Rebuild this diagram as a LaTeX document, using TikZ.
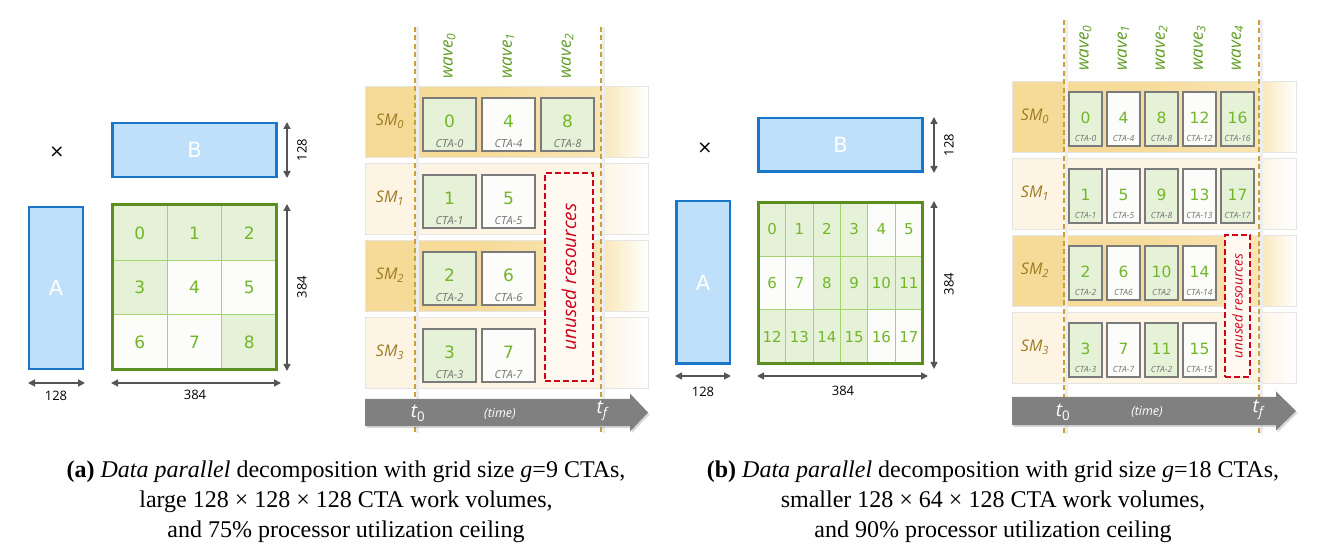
\documentclass[tikz,border=0pt]{standalone}
\usepackage{fontspec}
\setmainfont{Liberation Serif}
\newfontfamily\dfont{Open Sans}
\newfontfamily\nfont{DejaVu Sans}
\usetikzlibrary{arrows.meta,shadows}
\definecolor{bfill}{HTML}{BEE0FA}
\definecolor{bline}{HTML}{1A76C9}
\definecolor{gline}{HTML}{5C8E1F}
\definecolor{gcell}{HTML}{E6F2D8}
\definecolor{gthin}{HTML}{A5D46E}
\definecolor{gnum}{HTML}{72B62A}
\definecolor{wcell}{HTML}{FCFCFA}
\definecolor{boxline}{HTML}{7B7B7B}
\definecolor{smtext}{HTML}{9C7A22}
\definecolor{gold}{HTML}{F6DB98}
\definecolor{cream}{HTML}{FDF4E3}
\definecolor{dashc}{HTML}{C9A03A}
\definecolor{redd}{HTML}{D0021B}
\definecolor{arrowg}{HTML}{808080}
\definecolor{dimg}{HTML}{555555}
\definecolor{ctag}{HTML}{707070}
\definecolor{wavec}{HTML}{5E9C22}
% stepped horizontal gradient: #1 x0, #2 x1, #3 top, #4 colour, #5 start %, #6 end %
\newcommand\sgrad[6]{%
  \foreach \i in {0,...,29}{%
    \pgfmathsetmacro\pp{#5+(#6-#5)*(\i+0.5)/30}%
    \pgfmathsetmacro\xa{#1+(#2-#1)*\i/30}%
    \pgfmathsetmacro\xb{#1+(#2-#1)*(\i+1)/30+0.4}%
    \fill[#4!\pp!white] (\xa,#3) rectangle (\xb,#3+71);
  }}
% row backgrounds: #1 x0, #2 end of solid part, #3 t_f line, #4 x1, #5 top
\newcommand\sgoldbg[5]{%
  \fill[gold] (#1,#5) rectangle (#2+0.4,#5+71);
  \sgrad{#2}{#3}{#5}{gold}{100}{72}
  \sgrad{#3}{#4}{#5}{gold}{72}{0}}
\newcommand\screambg[5]{%
  \fill[cream] (#1,#5) rectangle (#3+0.4,#5+71);
  \sgrad{#3}{#4}{#5}{cream}{100}{0}}
\tikzset{
  matrect/.style={draw=bline, line width=2.5pt, fill=bfill, inner sep=0pt, text=white, font=\nfont\fontsize{21}{21}\selectfont},
  lcell/.style={draw=gthin, line width=0.9pt, inner sep=0pt, text=gnum},
  dimarrow/.style={draw=dimg, line width=1.4pt, {Triangle[width=7pt,length=7pt]}-{Triangle[width=7pt,length=7pt]}},
  dimlab/.style={font=\dfont\fontsize{13}{13}\selectfont, text=black, inner sep=0pt},
  smrow/.style={draw=black!10, line width=0.6pt, inner sep=0pt, anchor=north west},
  smlab/.style={font=\dfont\itshape\fontsize{16}{16}\selectfont, text=smtext, inner sep=0pt},
  wavelab/.style={text=wavec, rotate=90, inner sep=0pt},
  ctabox/.style={draw=boxline, line width=2.4pt, inner sep=0pt, drop shadow={opacity=0.18, shadow xshift=1pt, shadow yshift=-1.5pt}},
  ctanum/.style={text=gnum, inner sep=0pt},
  ctalab/.style={text=ctag, inner sep=0pt},
  tline/.style={draw=dashc, line width=1.6pt, dash pattern=on 5pt off 3.5pt},
  tshadow/.style={draw=black!7, line width=3pt},
  unusedbox/.style={draw=redd, line width=2pt, dash pattern=on 6pt off 3pt, fill=white!55!cream, inner sep=0pt},
  unlab/.style={text=redd, rotate=90, inner sep=0pt},
  tarrow/.style={fill=arrowg, drop shadow={opacity=0.3, shadow xshift=1.5pt, shadow yshift=-2pt}},
  tlab/.style={text=white, inner sep=0pt},
  captext/.style={align=center, font=\fontsize{24}{30}\selectfont, inner sep=0pt}
}
\begin{document}
\begin{tikzpicture}[x=1pt,y=-1pt]
\useasboundingbox[fill=white] (0,0) rectangle (1318,553);

%% ================= LEFT PANEL (a) =================
\node[font=\nfont\fontsize{18}{18}\selectfont] (ltimes) at (57,152) {×};
\node[matrect, minimum width=164, minimum height=54] (lB) at (194.5,150) {B};
\node[matrect, minimum width=54, minimum height=162] (lA) at (56,288) {A};
\foreach \k/\f in {0/gcell,1/gcell,2/gcell,3/gcell,4/wcell,5/wcell,6/wcell,7/wcell,8/gcell}{
  \pgfmathtruncatemacro\cc{mod(\k,3)}
  \pgfmathtruncatemacro\rr{div(\k,3)}
  \node[lcell, fill=\f, minimum width=54.67, minimum height=54.67, font=\nfont\fontsize{17}{17}\selectfont] (lc\k) at ({112.5+54.67*(\cc+0.5)},{205.5+54.67*(\rr+0.5)}) {\k};
}
\draw[gline, line width=3pt] (112,205) rectangle (276.5,369.5);
% dimensions
\coordinate (ldb1) at (287,122); \coordinate (ldb2) at (287,178);
\coordinate (ldc1) at (287,204); \coordinate (ldc2) at (287,371);
\coordinate (lda1) at (28,383); \coordinate (lda2) at (85,383);
\coordinate (ldh1) at (111,383); \coordinate (ldh2) at (281,383);
\draw[dimarrow] (ldb1) -- (ldb2);
\draw[dimarrow] (ldc1) -- (ldc2);
\draw[dimarrow] (lda1) -- (lda2);
\draw[dimarrow] (ldh1) -- (ldh2);
\node[dimlab, rotate=90] (ldbl) at (302,150) {128};
\node[dimlab, rotate=90] (ldcl) at (302,287) {384};
\node[dimlab] (ldal) at (56,395.5) {128};
\node[dimlab] (ldhl) at (195,395) {384};

%% ---- left timeline
\sgoldbg{365}{478}{601}{648}{86}
\screambg{365}{478}{601}{648}{163}
\sgoldbg{365}{478}{601}{648}{240}
\screambg{365}{478}{601}{648}{317}
\node[smrow, minimum width=283, minimum height=71] (lr0) at (365,86) {};
\node[smrow, minimum width=283, minimum height=71] (lr1) at (365,163) {};
\node[smrow, minimum width=283, minimum height=71] (lr2) at (365,240) {};
\node[smrow, minimum width=283, minimum height=71] (lr3) at (365,317) {};
\foreach \r in {0,1,2,3}{
  \node[smlab] (lsm\r) at (390,{86+77*\r+35.5}) {SM\textsubscript{\r}};
}
% dashed time lines
\coordinate (lt0a) at (415,27); \coordinate (lt0b) at (415,433);
\coordinate (ltfa) at (601,27); \coordinate (ltfb) at (601,433);
\coordinate (lt0as) at (417.5,27); \coordinate (lt0bs) at (417.5,433);
\coordinate (ltfas) at (603.5,27); \coordinate (ltfbs) at (603.5,433);
\draw[tshadow] (lt0as) -- (lt0bs);
\draw[tshadow] (ltfas) -- (ltfbs);
\draw[tline] (lt0a) -- (lt0b);
\draw[tline] (ltfa) -- (ltfb);
% wave labels
\foreach \c in {0,1,2}{
  \node[wavelab, font=\dfont\itshape\fontsize{17}{17}\selectfont] (lw\c) at ({449.5+59*\c},56) {wave\textsubscript{\c}};
}
% CTA boxes
\foreach \r/\c/\f/\lab in {0/0/gcell/CTA-0,0/1/wcell/CTA-4,0/2/gcell/CTA-8,1/0/gcell/CTA-1,1/1/wcell/CTA-5,2/0/gcell/CTA-2,2/1/wcell/CTA-6,3/0/gcell/CTA-3,3/1/wcell/CTA-7}{
  \pgfmathtruncatemacro\num{\r+4*\c}
  \node[ctabox, fill=\f, minimum width=53, minimum height=53] (lb\r\c) at ({422+59*\c+27.5},{97+77*\r+27.5}) {};
  \node[ctanum, font=\nfont\fontsize{17}{17}\selectfont] (lbn\r\c) at ({422+59*\c+27.5},{97+77*\r+24.5}) {\num};
  \node[ctalab, font=\dfont\itshape\fontsize{11}{11}\selectfont] (lbl\r\c) at ({422+59*\c+27.5},{97+77*\r+46.5}) {\lab};
}
\node[unusedbox, minimum width=48, minimum height=208] (lun) at (569,277) {};
\node[unlab, font=\dfont\itshape\fontsize{19}{19}\selectfont] (lunl) at (569,277) {unused resources};
% time arrow
\fill[tarrow] (365,399) -- (630,399) -- (630,393.5) -- (648,412.5) -- (630,431.5) -- (630,426) -- (365,426) -- cycle;
\node[tlab, font=\dfont\itshape\fontsize{19}{19}\selectfont] (lt0) at (418,413) {t\textsubscript{\upshape 0}};
\node[tlab, font=\dfont\itshape\fontsize{12.5}{12.5}\selectfont] (ltime) at (500,414) {(time)};
\node[tlab, font=\dfont\itshape\fontsize{19}{19}\selectfont] (ltf) at (602,411) {t\textsubscript{f}};

%% ================= RIGHT PANEL (b) =================
\node[font=\nfont\fontsize{18}{18}\selectfont] (rtimes) at (705,148) {×};
\node[matrect, minimum width=164, minimum height=53.5] (rB) at (840.5,145) {B};
\node[matrect, minimum width=53.5, minimum height=162.5] (rA) at (703,282.5) {A};
\foreach \k/\f in {0/gcell,1/gcell,2/gcell,3/gcell,4/wcell,5/wcell,6/wcell,7/wcell,8/gcell,9/gcell,10/gcell,11/gcell,12/gcell,13/gcell,14/gcell,15/gcell,16/wcell,17/wcell}{
  \pgfmathtruncatemacro\cc{mod(\k,6)}
  \pgfmathtruncatemacro\rr{div(\k,6)}
  \node[lcell, fill=\f, minimum width=27.33, minimum height=53.67, font=\nfont\fontsize{15}{15}\selectfont] (rc\k) at ({758.5+27.33*(\cc+0.5)},{202.5+53.67*(\rr+0.5)}) {\k};
}
\draw[gline, line width=3pt] (758.5,202.5) rectangle (922.5,363.5);
\coordinate (rdb1) at (934,117); \coordinate (rdb2) at (934,173);
\coordinate (rdc1) at (934,201); \coordinate (rdc2) at (934,369);
\coordinate (rda1) at (675,376); \coordinate (rda2) at (731,376);
\coordinate (rdh1) at (757,376); \coordinate (rdh2) at (928,376);
\draw[dimarrow] (rdb1) -- (rdb2);
\draw[dimarrow] (rdc1) -- (rdc2);
\draw[dimarrow] (rda1) -- (rda2);
\draw[dimarrow] (rdh1) -- (rdh2);
\node[dimlab, rotate=90] (rdbl) at (949,145) {128};
\node[dimlab, rotate=90] (rdcl) at (949,284) {384};
\node[dimlab] (rdal) at (703,392) {128};
\node[dimlab] (rdhl) at (843,391) {384};

%% ---- right timeline
\sgoldbg{1012}{1140}{1259}{1296}{81}
\screambg{1012}{1140}{1259}{1296}{158}
\sgoldbg{1012}{1140}{1259}{1296}{235}
\screambg{1012}{1140}{1259}{1296}{312}
\node[smrow, minimum width=284, minimum height=71] (rr0) at (1012,81) {};
\node[smrow, minimum width=284, minimum height=71] (rr1) at (1012,158) {};
\node[smrow, minimum width=284, minimum height=71] (rr2) at (1012,235) {};
\node[smrow, minimum width=284, minimum height=71] (rr3) at (1012,312) {};
\foreach \r in {0,1,2,3}{
  \node[smlab] (rsm\r) at (1035,{81+77*\r+35.5}) {SM\textsubscript{\r}};
}
\coordinate (rt0a) at (1064,20); \coordinate (rt0b) at (1064,434);
\coordinate (rtfa) at (1259,20); \coordinate (rtfb) at (1259,434);
\coordinate (rt0as) at (1066.5,20); \coordinate (rt0bs) at (1066.5,434);
\coordinate (rtfas) at (1261.5,20); \coordinate (rtfbs) at (1261.5,434);
\draw[tshadow] (rt0as) -- (rt0bs);
\draw[tshadow] (rtfas) -- (rtfbs);
\draw[tline] (rt0a) -- (rt0b);
\draw[tline] (rtfa) -- (rtfb);
\foreach \c in {0,1,2,3,4}{
  \node[wavelab, font=\dfont\itshape\fontsize{17}{17}\selectfont] (rw\c) at ({1085.5+38*\c},48) {wave\textsubscript{\c}};
}
\foreach \r/\c/\f/\lab in {0/0/gcell/CTA-0,0/1/wcell/CTA-4,0/2/gcell/CTA-8,0/3/wcell/CTA-12,0/4/gcell/CTA-16,
  1/0/gcell/CTA-1,1/1/wcell/CTA-5,1/2/gcell/CTA-8,1/3/wcell/CTA-13,1/4/gcell/CTA-17,
  2/0/gcell/CTA-2,2/1/wcell/CTA6,2/2/gcell/CTA2,2/3/wcell/CTA-14,
  3/0/gcell/CTA-3,3/1/wcell/CTA-7,3/2/gcell/CTA-2,3/3/wcell/CTA-15}{
  \pgfmathtruncatemacro\num{\r+4*\c}
  \node[ctabox, fill=\f, minimum width=32.6, minimum height=53.6] (rb\r\c) at ({1068+38*\c+17.5},{91+77*\r+28}) {};
  \node[ctanum, font=\nfont\fontsize{15.5}{15.5}\selectfont] (rbn\r\c) at ({1068+38*\c+17.5},{91+77*\r+27}) {\num};
  \node[ctalab, font=\dfont\itshape\fontsize{8.5}{8.5}\selectfont] (rbl\r\c) at ({1068+38*\c+17.5},{91+77*\r+47.5}) {\lab};
}
\node[unusedbox, minimum width=25.5, minimum height=142] (run) at (1237.5,306) {};
\node[unlab, font=\dfont\itshape\fontsize{13.5}{13.5}\selectfont] (runl) at (1237.5,306) {unused resources};
\fill[tarrow] (1012,397) -- (1276,397) -- (1276,391.5) -- (1296,411) -- (1276,430.5) -- (1276,425) -- (1012,425) -- cycle;
\node[tlab, font=\dfont\itshape\fontsize{19}{19}\selectfont] (rt0) at (1063,412) {t\textsubscript{\upshape 0}};
\node[tlab, font=\dfont\itshape\fontsize{12.5}{12.5}\selectfont] (rtime) at (1147,412) {(time)};
\node[tlab, font=\dfont\itshape\fontsize{19}{19}\selectfont] (rtf) at (1258,410) {t\textsubscript{f}};

%% ================= CAPTIONS =================
\node[captext] (capa) at (346,501.5) {\textbf{(a)} \textit{Data parallel} decomposition with grid size \textit{g}=9 CTAs,\\ large 128 × 128 × 128 CTA work volumes,\\ and 75\% processor utilization ceiling};
\node[captext] (capb) at (993,501.5) {\textbf{(b)} \textit{Data parallel} decomposition with grid size \textit{g}=18 CTAs,\\ smaller 128 × 64 × 128 CTA work volumes,\\ and 90\% processor utilization ceiling};
\end{tikzpicture}
\end{document}
